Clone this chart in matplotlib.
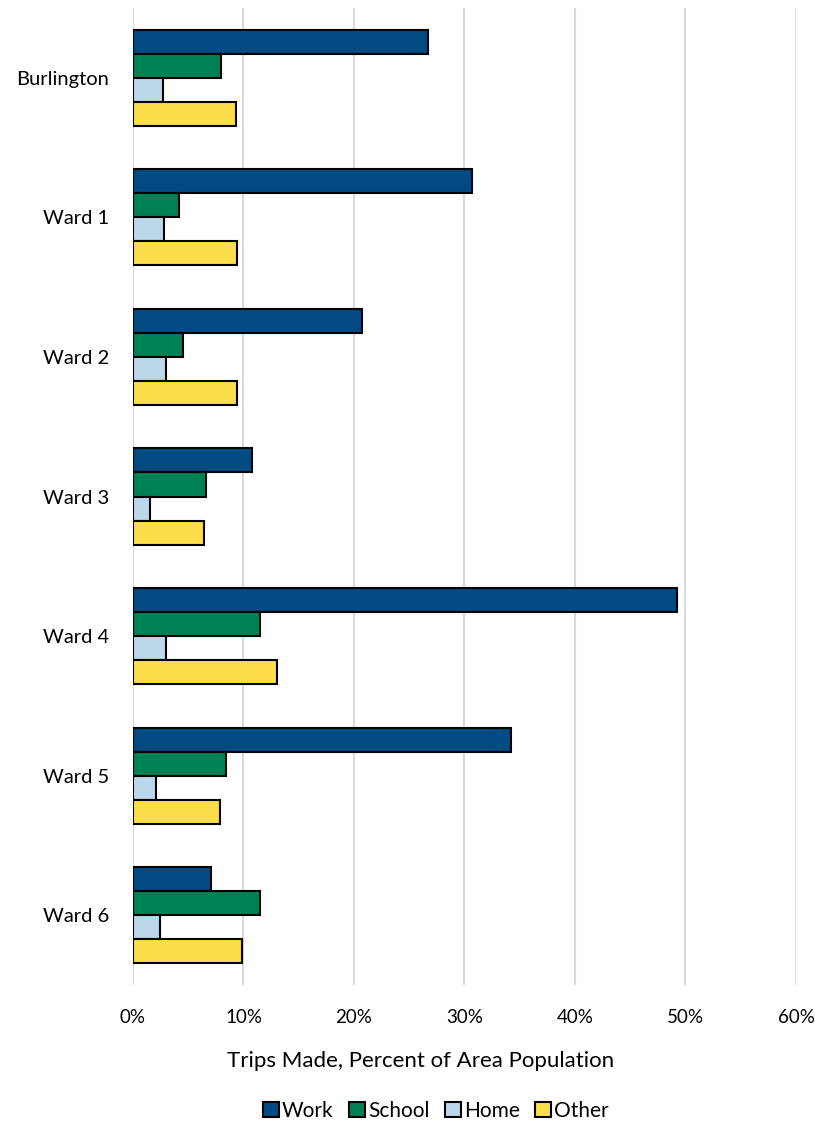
import matplotlib
matplotlib.use("Agg")
import matplotlib.pyplot as plt
import numpy as np
from matplotlib.patches import Patch

plt.rcParams['font.family'] = ['Lato', 'DejaVu Sans']

areas = ["Burlington", "Ward 1", "Ward 2", "Ward 3", "Ward 4", "Ward 5", "Ward 6"]
work = [26.7, 30.65, 20.7, 10.8, 49.2, 34.2, 7.1]
school = [8.0, 4.2, 4.5, 6.6, 11.5, 8.4, 11.5]
home = [2.75, 2.8, 2.95, 1.5, 3.0, 2.05, 2.45]
other = [9.35, 9.4, 9.4, 6.4, 13.0, 7.9, 9.9]

series = [("Work", work, "#024B82"),
          ("School", school, "#008155"),
          ("Home", home, "#BDD7EA"),
          ("Other", other, "#FBDE4A")]

fig = plt.figure(figsize=(8.15, 11.22), dpi=100)
ax = fig.add_axes([133 / 815, 1 - 985 / 1122, (796 - 133) / 815, (985 - 8) / 1122])

n = len(areas)
y = np.arange(n)
bar_h = 0.172
for i, (name, vals, color) in enumerate(series):
    offs = (i - 1.5) * bar_h
    ax.barh(y + offs, vals, height=bar_h, color=color, edgecolor="black",
            linewidth=1.5, zorder=3, label=name)

ax.set_xlim(0, 60)
ax.set_ylim(n - 0.5, -0.5)
ax.set_xticks(np.arange(0, 61, 10))
ax.set_xticklabels([f"{v}%" for v in range(0, 61, 10)])
ax.set_yticks(y)
ax.set_yticklabels(areas)
ax.tick_params(axis="both", length=0, colors="#000000")
ax.tick_params(axis="x", pad=17, labelsize=13.5)
ax.tick_params(axis="y", pad=17, labelsize=14.5)
ax.grid(axis="x", color="#D9D9D9", linewidth=1.5, zorder=0)
for s in ax.spines.values():
    s.set_visible(False)

fig.text(421 / 815, 1 - 1061 / 1122, "Trips Made, Percent of Area Population",
         ha="center", va="center", fontsize=16)

handles = [Patch(facecolor=c, edgecolor="black", linewidth=1.5, label=nm) for nm, _, c in series]
fig.legend(handles=handles, loc="center", bbox_to_anchor=(436 / 815, 1 - 1111 / 1122),
           ncol=4, frameon=False, fontsize=15, handlelength=0.75, handleheight=0.75,
           handletextpad=0.15, columnspacing=0.75)

fig.savefig("out.png", dpi=100)
